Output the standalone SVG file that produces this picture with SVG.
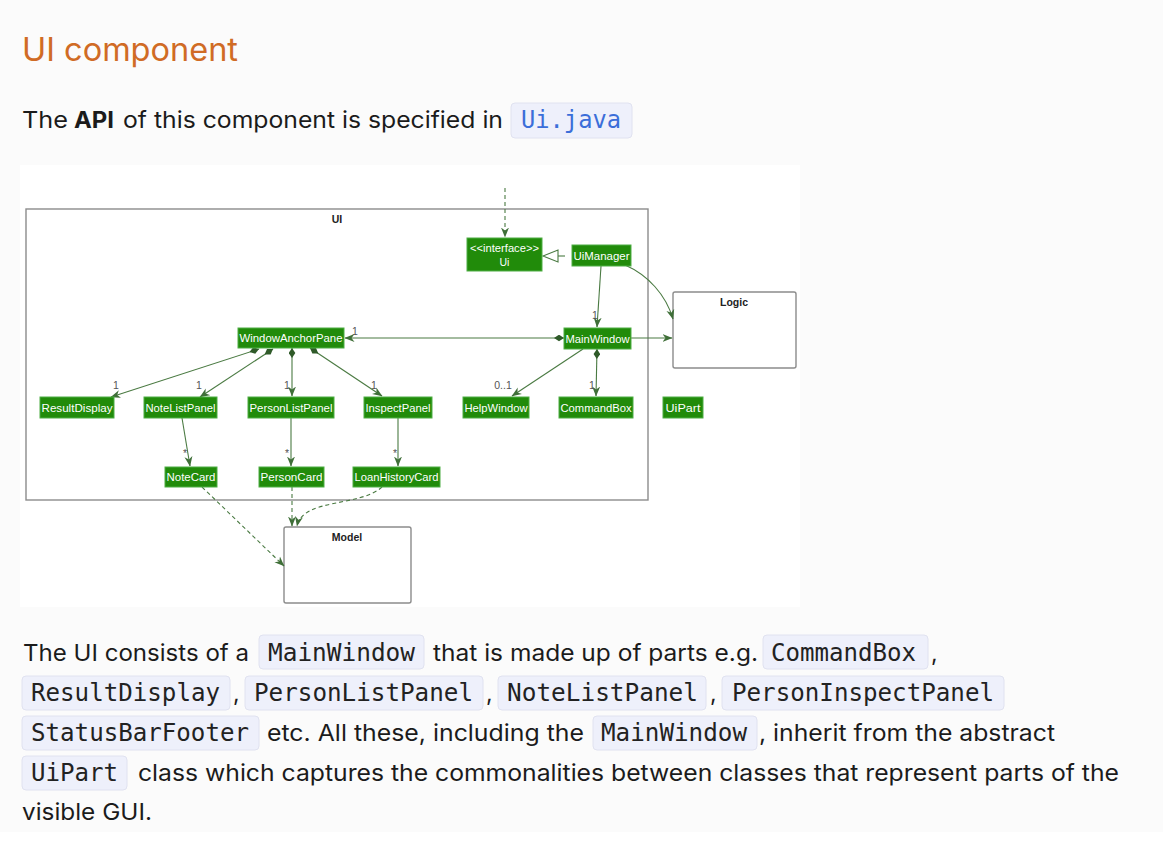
<svg xmlns="http://www.w3.org/2000/svg" width="1163" height="842" viewBox="0 0 1163 842">
<style>
.body{font-family:Inter,"Noto Sans","Liberation Sans",sans-serif;font-size:23px;fill:#1b1b1b}
.mono{font-family:"DejaVu Sans Mono","Liberation Mono",monospace;font-size:24px;fill:#222}
.code{fill:#eef0fb;stroke:#e0e2f0;stroke-width:1}
.node rect{fill:#218b0a;stroke:#4fae45;stroke-width:1}
.node text{font-family:"Liberation Sans",Arial,sans-serif;font-size:10.5px;fill:#fff;text-anchor:middle}
.pkg{fill:#fff;stroke:#8c8c8c;stroke-width:1.4}
.pkgt{font-family:"Liberation Sans",Arial,sans-serif;font-size:10.5px;font-weight:bold;fill:#222;text-anchor:middle}
.ln{fill:none;stroke:#4a7a42;stroke-width:1.1}
.dash{stroke-dasharray:4,3}
.lbl{font-family:"Liberation Sans",Arial,sans-serif;font-size:10.5px;fill:#555;text-anchor:middle}
</style>
<defs>
<marker id="arr" viewBox="0 0 10 10" refX="9.5" refY="5" markerWidth="10" markerHeight="10" orient="auto" markerUnits="userSpaceOnUse"><path d="M0,1 L10,5 L0,9 L3,5 Z" fill="#3f6f38"/></marker>
<marker id="dia" viewBox="0 0 12 8" refX="0" refY="4" markerWidth="10" markerHeight="7" orient="auto" markerUnits="userSpaceOnUse"><path d="M0,4 L6,0 L12,4 L6,8 Z" fill="#2f5a29"/></marker>
</defs>
<rect x="0" y="0" width="1163" height="832" fill="#fbfbfb"/>
<rect x="0" y="832" width="1163" height="10" fill="#ffffff"/>

<g id="heading">
<text x="22" y="61" style="font-family:Inter,'Noto Sans','Liberation Sans',sans-serif;font-size:32px;fill:#d06b25" textLength="216" lengthAdjust="spacingAndGlyphs">UI component</text>
</g>
<g id="intro">
<text class="body" x="22" y="128" textLength="46" lengthAdjust="spacingAndGlyphs">The</text>
<text class="body" x="74" y="128" font-weight="bold" textLength="40" lengthAdjust="spacingAndGlyphs">API</text>
<text class="body" x="123" y="128" textLength="380" lengthAdjust="spacingAndGlyphs">of this component is specified in</text>
<rect class="code" x="511" y="103" width="121" height="35" rx="4"/>
<text class="mono" x="521" y="128" style="fill:#3b6ed9" textLength="100" lengthAdjust="spacingAndGlyphs">Ui.java</text>
</g>

<rect x="20" y="165" width="780" height="442" fill="#ffffff"/>

<g id="UI-package"><rect class="pkg" x="26" y="209" width="622" height="291"/><text class="pkgt" x="337" y="223">UI</text></g>
<g id="Logic"><rect class="pkg" x="673" y="292" width="123" height="76" rx="2"/><text class="pkgt" x="734" y="306">Logic</text></g>
<g id="Model"><rect class="pkg" x="284" y="527" width="127" height="76" rx="2"/><text class="pkgt" x="347" y="541">Model</text></g>

<g id="connectors">
<path class="ln dash" d="M505,188 L505,237" marker-end="url(#arr)"/>
<polygon points="543,256 558,250 558,262" fill="#fff" stroke="#4a7a42" stroke-width="1.1"/>
<path class="ln" d="M558,256 L565,256"/>
<path class="ln" d="M601,266 L597,327" marker-end="url(#arr)"/>
<path class="ln" d="M625,265 C648,275 666,295 673,319" marker-end="url(#arr)"/>
<path class="ln" d="M631,338 L672,338" marker-end="url(#arr)"/>
<path class="ln" d="M564,338 L345,338" marker-start="url(#dia)" marker-end="url(#arr)"/>
<path class="ln" d="M259,349 L111,397" marker-start="url(#dia)" marker-end="url(#arr)"/>
<path class="ln" d="M273,349 L200,397" marker-start="url(#dia)" marker-end="url(#arr)"/>
<path class="ln" d="M292,348 L292,396" marker-start="url(#dia)" marker-end="url(#arr)"/>
<path class="ln" d="M310,348 L382,396" marker-start="url(#dia)" marker-end="url(#arr)"/>
<path class="ln" d="M583,349 L512,396" marker-end="url(#arr)"/>
<path class="ln" d="M597,349 L596,396" marker-start="url(#dia)" marker-end="url(#arr)"/>
<path class="ln" d="M182,418 L190,466" marker-end="url(#arr)"/>
<path class="ln" d="M291,418 L291,466" marker-end="url(#arr)"/>
<path class="ln" d="M398,418 L398,466" marker-end="url(#arr)"/>
<path class="ln dash" d="M202,487 L284,566" marker-end="url(#arr)"/>
<path class="ln dash" d="M292,487 L292,526" marker-end="url(#arr)"/>
<path class="ln dash" d="M382,487 C360,507 303,498 297,526" marker-end="url(#arr)"/>
<text class="lbl" x="595" y="319">1</text>
<text class="lbl" x="355" y="335">1</text>
<text class="lbl" x="116" y="389">1</text>
<text class="lbl" x="199" y="389">1</text>
<text class="lbl" x="287" y="389">1</text>
<text class="lbl" x="374" y="389">1</text>
<text class="lbl" x="503" y="389">0..1</text>
<text class="lbl" x="592" y="389">1</text>
<text class="lbl" x="185" y="457">*</text>
<text class="lbl" x="287" y="457">*</text>
<text class="lbl" x="395" y="457">*</text>
</g>

<g id="Ui" class="node"><rect x="467" y="238" width="75" height="33"/><text x="504.5" y="252" textLength="69" lengthAdjust="spacingAndGlyphs">&lt;&lt;interface&gt;&gt;</text><text x="504.5" y="266">Ui</text></g>
<g id="UiManager" class="node"><rect x="572" y="245" width="59" height="21"/><text x="601.5" y="259.5" textLength="56" lengthAdjust="spacingAndGlyphs">UiManager</text></g>
<g id="WindowAnchorPane" class="node"><rect x="238" y="328" width="106" height="20"/><text x="291" y="342" textLength="103" lengthAdjust="spacingAndGlyphs">WindowAnchorPane</text></g>
<g id="MainWindow" class="node"><rect x="564" y="328" width="67" height="21"/><text x="597.5" y="342.5" textLength="64" lengthAdjust="spacingAndGlyphs">MainWindow</text></g>
<g id="ResultDisplay" class="node"><rect x="40" y="397" width="74" height="21"/><text x="77" y="411.5" textLength="71" lengthAdjust="spacingAndGlyphs">ResultDisplay</text></g>
<g id="NoteListPanel" class="node"><rect x="144" y="397" width="73" height="21"/><text x="180.5" y="411.5" textLength="70" lengthAdjust="spacingAndGlyphs">NoteListPanel</text></g>
<g id="PersonListPanel" class="node"><rect x="248" y="397" width="86" height="21"/><text x="291" y="411.5" textLength="83" lengthAdjust="spacingAndGlyphs">PersonListPanel</text></g>
<g id="InspectPanel" class="node"><rect x="364" y="397" width="68" height="21"/><text x="398" y="411.5" textLength="65" lengthAdjust="spacingAndGlyphs">InspectPanel</text></g>
<g id="HelpWindow" class="node"><rect x="463" y="397" width="66" height="21"/><text x="496" y="411.5" textLength="63" lengthAdjust="spacingAndGlyphs">HelpWindow</text></g>
<g id="CommandBox" class="node"><rect x="559" y="397" width="74" height="21"/><text x="596" y="411.5" textLength="71" lengthAdjust="spacingAndGlyphs">CommandBox</text></g>
<g id="UiPart" class="node"><rect x="663" y="397" width="40" height="21"/><text x="683" y="411.5" textLength="35" lengthAdjust="spacingAndGlyphs">UiPart</text></g>
<g id="NoteCard" class="node"><rect x="165" y="467" width="52" height="20"/><text x="191" y="481" textLength="49" lengthAdjust="spacingAndGlyphs">NoteCard</text></g>
<g id="PersonCard" class="node"><rect x="259" y="467" width="65" height="20"/><text x="291.5" y="481" textLength="62" lengthAdjust="spacingAndGlyphs">PersonCard</text></g>
<g id="LoanHistoryCard" class="node"><rect x="353" y="467" width="87" height="20"/><text x="396.5" y="481" textLength="84" lengthAdjust="spacingAndGlyphs">LoanHistoryCard</text></g>

<g id="description">
<text class="body" x="23" y="661" textLength="226" lengthAdjust="spacingAndGlyphs">The UI consists of a</text>
<rect class="code" x="259" y="635" width="165" height="34" rx="4"/>
<text class="mono" x="268" y="661" textLength="147" lengthAdjust="spacingAndGlyphs">MainWindow</text>
<text class="body" x="433" y="661" textLength="325" lengthAdjust="spacingAndGlyphs">that is made up of parts e.g.</text>
<rect class="code" x="763" y="635" width="165" height="34" rx="4"/>
<text class="mono" x="771" y="661" textLength="145" lengthAdjust="spacingAndGlyphs">CommandBox</text>
<text class="body" x="931" y="661">,</text>

<rect class="code" x="22" y="676" width="208" height="34" rx="4"/>
<text class="mono" x="31" y="701" textLength="189" lengthAdjust="spacingAndGlyphs">ResultDisplay</text>
<text class="body" x="233" y="701">,</text>
<rect class="code" x="245" y="676" width="238" height="34" rx="4"/>
<text class="mono" x="254" y="701" textLength="219" lengthAdjust="spacingAndGlyphs">PersonListPanel</text>
<text class="body" x="486" y="701">,</text>
<rect class="code" x="498" y="676" width="208" height="34" rx="4"/>
<text class="mono" x="507" y="701" textLength="191" lengthAdjust="spacingAndGlyphs">NoteListPanel</text>
<text class="body" x="710" y="701">,</text>
<rect class="code" x="722" y="676" width="282" height="34" rx="4"/>
<text class="mono" x="732" y="701" textLength="262" lengthAdjust="spacingAndGlyphs">PersonInspectPanel</text>

<rect class="code" x="22" y="716" width="237" height="34" rx="4"/>
<text class="mono" x="31" y="741" textLength="218" lengthAdjust="spacingAndGlyphs">StatusBarFooter</text>
<text class="body" x="267" y="741" textLength="317" lengthAdjust="spacingAndGlyphs">etc. All these, including the</text>
<rect class="code" x="593" y="716" width="164" height="34" rx="4"/>
<text class="mono" x="601" y="741" textLength="146" lengthAdjust="spacingAndGlyphs">MainWindow</text>
<text class="body" x="759" y="741" textLength="296" lengthAdjust="spacingAndGlyphs">, inherit from the abstract</text>

<rect class="code" x="22" y="756" width="105" height="34" rx="4"/>
<text class="mono" x="31" y="781" textLength="87" lengthAdjust="spacingAndGlyphs">UiPart</text>
<text class="body" x="138" y="781" textLength="981" lengthAdjust="spacingAndGlyphs">class which captures the commonalities between classes that represent parts of the</text>
<text class="body" x="22" y="820" textLength="130" lengthAdjust="spacingAndGlyphs">visible GUI.</text>
</g>
</svg>
